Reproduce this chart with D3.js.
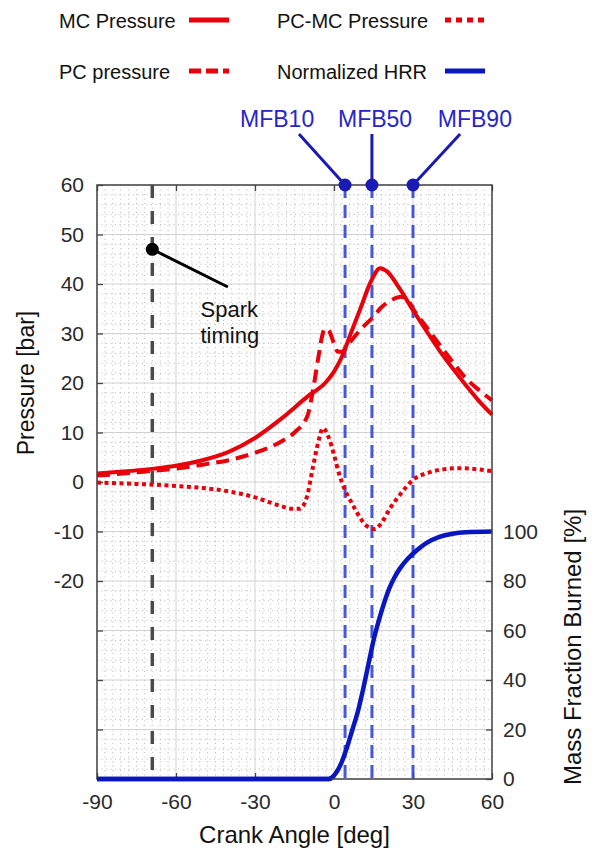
<!DOCTYPE html>
<html><head><meta charset="utf-8">
<script src="https://cdn.jsdelivr.net/npm/d3@7"></script>
<style>body{margin:0;background:#fff;} text{font-family:"Liberation Sans",Arial,sans-serif;}</style>
</head><body><svg id="c" width="597" height="850"></svg>
<script>
// ---- data ----
const mcAngle    = [-90,-80,-70,-60,-50,-40,-30,-20,-10,-3,0,3,6,10,14,17.5,20,25,30,35,40,45,50,55,60];
const mcPressure = [1.7,2.1,2.6,3.3,4.4,6.1,8.9,12.8,17.3,20.2,22.3,25.3,29.5,35,40.5,43.2,42.6,39,34.7,30.6,26.6,23,19.6,16.4,13.6];

const pcAngle    = [-90,-80,-70,-60,-50,-40,-30,-20,-15,-10,-8,-6,-4.5,-3.5,-2,0,1.5,3,5,8,11,14.8,18,22,25.5,28,30,35,40,45,50,55,60];
const pcPressure = [1.3,1.7,2.2,2.7,3.5,4.4,5.9,8.2,10,13.5,18.5,25,29.5,31,30.6,28,26.3,26.3,27.5,29.5,31.3,33.3,35.3,36.8,37.4,36.8,35,31.4,27.8,24.3,21,18.6,16.5];

const diffAngle    = [-90,-80,-70,-60,-50,-40,-30,-25,-20,-16,-13,-10.3,-8,-6,-4.2,-2,0,2,4,7,10,12,15.5,18,21.3,25,30,36.5,42,48,54,60];
const diffPressure = [-0.1,-0.3,-0.5,-0.8,-1.2,-1.9,-3.1,-4.0,-4.9,-5.4,-5.4,-3,3,8,10.9,9,5.5,1.5,-1.4,-4.5,-7.3,-8.7,-9.5,-8.3,-5.3,-2.6,0.4,2,2.6,2.8,2.6,2.2];

const hrrAngle = [-90,-2,-1,1,3,5,7,9,11,13,15,17,19,21,23,25,28,31,35,40,45,50,60];
const hrrMfb   = [0,0,0.4,2.8,7,13,20,27,36,46,56,64,71,77,81.5,85,89,92,95.3,97.8,99.1,99.7,100];

const mfbNames  = ["MFB10","MFB50","MFB90"];
const mfbAngles = [4.2,14.4,30];
const sparkAngle = -69;

const xTicks = [-90,-60,-30,0,30,60];
const pTicks = [60,50,40,30,20,10,0,-10,-20,-30,-40,-50,-60];
const mTicks = [0,20,40,60,80,100];

// ---- layout ----
const svg = d3.select("#c");
const L=97, R=492, T=185, B=779;
const x  = d3.scaleLinear().domain([-90,60]).range([L,R]);
const yP = d3.scaleLinear().domain([-60,60]).range([B,T]);
const yM = d3.scaleLinear().domain([0,100]).range([B,yP(-10)]);

const RED="#e8000b", BLUE="#0a16c0";

// minor dotted grid
const g = svg.append("g");
d3.range(-90,61,3).forEach(v=>{
  if(v%30!==0) g.append("line").attr("x1",x(v)).attr("x2",x(v)).attr("y1",T).attr("y2",B)
    .attr("stroke","#b8b8b8").attr("stroke-width",1).attr("stroke-dasharray","1,3.5");
});
d3.range(-60,61,2).forEach(v=>{
  if(v%10!==0) g.append("line").attr("x1",L).attr("x2",R).attr("y1",yP(v)).attr("y2",yP(v))
    .attr("stroke","#b8b8b8").attr("stroke-width",1).attr("stroke-dasharray","1,3.5");
});
// major grid
xTicks.forEach(v=>g.append("line").attr("x1",x(v)).attr("x2",x(v)).attr("y1",T).attr("y2",B).attr("stroke","#d2d2d2"));
pTicks.forEach(v=>g.append("line").attr("x1",L).attr("x2",R).attr("y1",yP(v)).attr("y2",yP(v)).attr("stroke","#d2d2d2"));

// axes
function styleAxis(sel){
  sel.select(".domain").remove();
  sel.selectAll(".tick line").attr("stroke","#444").attr("stroke-width",1.3);
  sel.selectAll(".tick text").attr("fill","#2a2a2a").style("font-size","21px").style("font-family","Liberation Sans, Arial, sans-serif");
}
const fmt = d => String(d);
svg.append("g").attr("transform",`translate(${L},0)`)
  .call(d3.axisLeft(yP).tickValues(pTicks).tickSize(-6).tickPadding(13).tickFormat(d=>d>=-20?fmt(d):""))
  .call(styleAxis);
svg.append("g").attr("transform",`translate(${R},0)`)
  .call(d3.axisRight(yM).tickValues(mTicks).tickSize(-6).tickPadding(11).tickFormat(fmt))
  .call(styleAxis);
svg.append("g").attr("transform",`translate(0,${B})`)
  .call(d3.axisBottom(x).tickValues(xTicks).tickSize(-6).tickPadding(15).tickFormat(fmt))
  .call(styleAxis);
svg.append("g").attr("transform",`translate(0,${T})`)
  .call(d3.axisTop(x).tickValues(xTicks).tickSize(-6).tickFormat(""))
  .call(styleAxis);

// spark line
svg.append("line").attr("x1",x(sparkAngle)).attr("x2",x(sparkAngle)).attr("y1",T).attr("y2",B)
  .attr("stroke","#4a4a4a").attr("stroke-width",3.5).attr("stroke-dasharray","13,13");
// MFB lines
mfbAngles.forEach(a=>{
  svg.append("line").attr("x1",x(a)).attr("x2",x(a)).attr("y1",T).attr("y2",B)
    .attr("stroke","#3347d6").attr("stroke-opacity",0.9).attr("stroke-width",3).attr("stroke-dasharray","13,7");
});

// curves
const line = (xs,ys,ysc)=>d3.line().x((d,i)=>x(xs[i])).y((d,i)=>ysc(ys[i])).curve(d3.curveMonotoneX)(ys);
svg.append("path").attr("d",line(hrrAngle,hrrMfb,yM)).attr("fill","none").attr("stroke",BLUE).attr("stroke-width",4.5);
svg.append("path").attr("d",line(diffAngle,diffPressure,yP)).attr("fill","none").attr("stroke",RED).attr("stroke-width",4).attr("stroke-dasharray","4,3.5");
svg.append("path").attr("d",line(pcAngle,pcPressure,yP)).attr("fill","none").attr("stroke",RED).attr("stroke-width",4).attr("stroke-dasharray","13,7");
svg.append("path").attr("d",line(mcAngle,mcPressure,yP)).attr("fill","none").attr("stroke",RED).attr("stroke-width",4);

// frame
svg.append("rect").attr("x",L).attr("y",T).attr("width",R-L).attr("height",B-T)
  .attr("fill","none").attr("stroke","#444").attr("stroke-width",1.5);
// redraw blue on bottom edge
svg.append("path").attr("d",line(hrrAngle.slice(0,3),hrrMfb.slice(0,3),yM)).attr("fill","none").attr("stroke",BLUE).attr("stroke-width",4.5);

// spark annotation
svg.append("line").attr("x1",x(sparkAngle)).attr("y1",yP(47)).attr("x2",x(-40.3)).attr("y2",yP(39.4))
  .attr("stroke","#000").attr("stroke-width",3);
svg.append("circle").attr("cx",x(sparkAngle)).attr("cy",yP(47)).attr("r",6.5).attr("fill","#000");
svg.append("text").attr("x",x(-50.7)).attr("y",317).text("Spark").style("font-size","22px").attr("fill","#111");
svg.append("text").attr("x",x(-50.7)).attr("y",343).text("timing").style("font-size","22px").attr("fill","#111");

// MFB annotations
const mfbLabelAngle = [-21.6,15.6,53.5];
const mfbLeaderAngle = [-13.3,14.4,47.9];
mfbAngles.forEach((a,i)=>{
  svg.append("line").attr("x1",x(mfbLeaderAngle[i])).attr("y1",134).attr("x2",x(a)).attr("y2",T)
    .attr("stroke","#1a1ab4").attr("stroke-width",3);
  svg.append("circle").attr("cx",x(a)).attr("cy",T).attr("r",6.5).attr("fill","#1a1ab4");
  svg.append("text").attr("x",x(mfbLabelAngle[i])).attr("y",127).attr("text-anchor","middle")
    .text(mfbNames[i]).style("font-size","23px").attr("fill","#2626c8");
});

// axis titles
svg.append("text").attr("x",294.5).attr("y",843).attr("text-anchor","middle").text("Crank Angle [deg]").style("font-size","24px").attr("fill","#111");
svg.append("text").attr("transform","translate(34,383) rotate(-90)").attr("text-anchor","middle").text("Pressure [bar]").style("font-size","23px").attr("fill","#111");
svg.append("text").attr("transform","translate(581,647) rotate(-90)").attr("text-anchor","middle").text("Mass Fraction Burned [%]").style("font-size","24px").attr("fill","#111");

// legend
const legNames = ["MC Pressure","PC-MC Pressure","PC pressure","Normalized HRR"];
const legX = [59,277,59,277], legY=[28,28,79,79], sampX=[189,445,189,445];
const legStyle = [[RED,null],[RED,"6,5"],[RED,"12,5"],[BLUE,null]];
legNames.forEach((n,i)=>{
  svg.append("text").attr("x",legX[i]).attr("y",legY[i]).text(n).style("font-size","20px").attr("fill","#111");
  const l=svg.append("line").attr("x1",sampX[i]).attr("x2",sampX[i]+40).attr("y1",legY[i]-8).attr("y2",legY[i]-8)
    .attr("stroke",legStyle[i][0]).attr("stroke-width",5);
  if(legStyle[i][1]) l.attr("stroke-dasharray",legStyle[i][1]);
});
</script></body></html>
